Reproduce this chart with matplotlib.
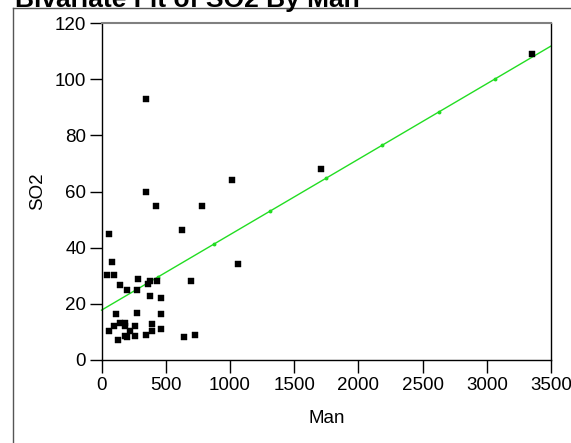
import numpy as np
import matplotlib
matplotlib.use("Agg")
import matplotlib.pyplot as plt
from matplotlib.lines import Line2D

plt.rcParams['font.family'] = ['Liberation Sans', 'DejaVu Sans']

# Data (Man vs SO2)
man = [40, 100, 287, 378, 434, 144, 360, 697, 201, 274, 378, 466, 113, 274, 466,
       100, 144, 185, 391, 56, 391, 466, 346, 128, 201, 640, 726,
       346, 422, 785, 56, 624, 84, 1065, 1018, 1707, 3354, 348,
       180, 260, 180, 260, 220]
so2 = [30.3, 30.3, 29.0, 28.1, 28.2, 26.8, 27.0, 28.1, 24.8, 24.8, 22.9, 22.2, 16.3, 16.8, 16.3,
       12.2, 13.1, 13.1, 12.9, 10.2, 10.2, 10.9, 9.0, 7.0, 8.3, 8.2, 8.9,
       59.9, 54.9, 54.9, 45.0, 46.2, 34.9, 34.2, 64.1, 68.1, 108.9, 92.8,
       12.2, 12.2, 8.7, 8.7, 10.5]

# Linear fit
fit_intercept = 17.75
fit_slope = 0.02687

x_ticks = [0, 500, 1000, 1500, 2000, 2500, 3000, 3500]
y_ticks = [0, 20, 40, 60, 80, 100, 120]

W, H = 571, 443
fig = plt.figure(figsize=(W / 100, H / 100), dpi=100)
fig.patch.set_facecolor('white')

ax_l, ax_r, ax_t, ax_b = 101.5, 551, 23, 360
ax = fig.add_axes([ax_l / W, 1 - ax_b / H, (ax_r - ax_l) / W, (ax_b - ax_t) / H])

fx = np.linspace(0, 3500, 9)
fy = fit_intercept + fit_slope * fx
ax.plot(fx, fy, color='#22dd22', lw=1.0, zorder=2, clip_on=False)
ax.plot(fx[1:-1], fy[1:-1], ls='none', marker='o', ms=1.8, color='#22dd22', zorder=2)

ax.plot(man, so2, ls='none', marker='s', ms=4, color='black', mec='black', mew=0.3, zorder=3)

ax.set_xlim(0, 3500)
ax.set_ylim(0, 120)
ax.set_xticks(x_ticks)
ax.set_yticks(y_ticks)
ax.tick_params(axis='both', direction='out', length=9, width=1, color='black',
               labelsize=13.5, pad=2)
ax.tick_params(axis='x', pad=3.5)
for s in ['left', 'bottom', 'right']:
    ax.spines[s].set_color('black')
    ax.spines[s].set_linewidth(1)
ax.spines['top'].set_color('#808080')
ax.spines['top'].set_linewidth(1.5)

ax.set_xlabel('Man', fontsize=13.5, labelpad=11)
ax.set_ylabel('SO2', fontsize=13.5, labelpad=6)

# Outer report frame
fig.add_artist(Line2D([13 / W, 13 / W], [0, 1 - 8 / H], color='#555555', lw=1))
fig.add_artist(Line2D([13 / W, 1], [1 - 8 / H, 1 - 8 / H], color='#555555', lw=1))

# Title (cut off at the top)
fig.text(15 / W, 1 - 7 / H, 'Bivariate Fit of SO2 By Man', fontsize=19,
         fontweight='bold', ha='left', va='baseline')

fig.savefig('out.png', dpi=100)
